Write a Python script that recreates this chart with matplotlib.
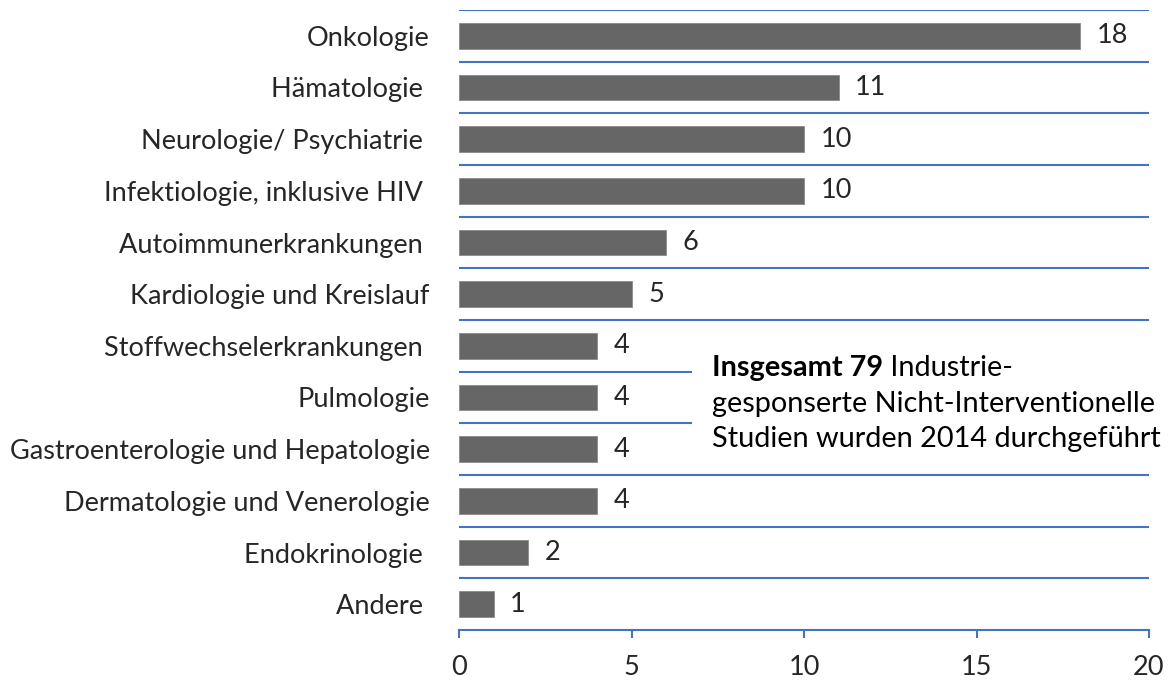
import matplotlib
matplotlib.use("Agg")
import matplotlib.pyplot as plt
from matplotlib.patches import Rectangle

categories = ["Onkologie", "Hämatologie ", "Neurologie/ Psychiatrie ",
              "Infektiologie, inklusive HIV ", "Autoimmunerkrankungen ",
              "Kardiologie und Kreislauf", "Stoffwechselerkrankungen ",
              "Pulmologie", "Gastroenterologie und Hepatologie",
              "Dermatologie und Venerologie", "Endokrinologie ", "Andere "]
values = [18, 11, 10, 10, 6, 5, 4, 4, 4, 4, 2, 1]
xticks = [0, 5, 10, 15, 20]
note_bold = "Insgesamt 79"
note_lines = [" Industrie-", "gesponserte Nicht-Interventionelle",
              "Studien wurden 2014 durchgeführt"]

FONT = "Lato"
plt.rcParams["font.family"] = [FONT, "DejaVu Sans"]

W, H, DPI = 1172, 682, 100
fig = plt.figure(figsize=(W / DPI, H / DPI), dpi=DPI)
ax = fig.add_axes([459 / W, 52 / H, 690 / W, 620 / H])

# fit font size so that the longest label is ~421 px wide
renderer = fig.canvas.get_renderer()
t = fig.text(0, 0, "Gastroenterologie und Hepatologie", fontsize=10)
w10 = t.get_window_extent(renderer).width
t.remove()
fs = 10 * 421 / w10
t = fig.text(0, 0, note_lines[1], fontsize=10)
wn = t.get_window_extent(renderer).width
t.remove()
fsn = 10 * 444 / wn

BLUE = "#4472C4"
n = len(categories)
ypos = list(range(n))
ax.barh(ypos, values, height=0.5, color="#666666", edgecolor="#8a8a8a",
        linewidth=0.6, zorder=3)
ax.set_ylim(n - 0.5, -0.5)
ax.set_xlim(0, 20)

# horizontal category gridlines
for k in range(n):
    ax.axhline(k - 0.5, color=BLUE, linewidth=1.5, zorder=1)

ax.set_yticks(ypos)
ax.set_yticklabels(categories, fontsize=fs, color="#262626")
ax.tick_params(axis="y", length=0, pad=21)
ax.set_xticks(xticks)
ax.set_xticklabels([str(x) for x in xticks], fontsize=fs, color="#262626")
ax.tick_params(axis="x", direction="out", length=6, width=1.5, color=BLUE, pad=12)
for s in ["top", "right", "left"]:
    ax.spines[s].set_visible(False)
ax.spines["bottom"].set_color(BLUE)
ax.spines["bottom"].set_linewidth(1.5)

for y, v in zip(ypos, values):
    ax.annotate(str(v), xy=(v, y), xytext=(12, 0), textcoords="offset points",
                va="center", ha="left", fontsize=fs, color="#262626")

# white note box covering gridlines
ax.add_patch(Rectangle((6.75, 6.1), 14, 2.1, facecolor="white", edgecolor="none",
                       zorder=4, clip_on=False))
x0 = (712 - 459) / 34.5
px = 620 / n
def ydat(ypix):
    return (ypix - 10) / px - 0.5
tb = ax.text(x0, ydat(376), note_bold, fontsize=fsn, fontweight="bold",
             va="baseline", ha="left", color="black", zorder=5)
fig.canvas.draw()
bb = tb.get_window_extent(fig.canvas.get_renderer())
xend = ax.transData.inverted().transform((bb.x1, bb.y0))[0]
ax.text(xend, ydat(376), note_lines[0], fontsize=fsn, va="baseline", ha="left",
        color="black", zorder=5)
ax.text(x0, ydat(412), note_lines[1], fontsize=fsn, va="baseline", ha="left",
        color="black", zorder=5)
ax.text(x0, ydat(447), note_lines[2], fontsize=fsn, va="baseline", ha="left",
        color="black", zorder=5)

fig.savefig("out.png", dpi=DPI)
